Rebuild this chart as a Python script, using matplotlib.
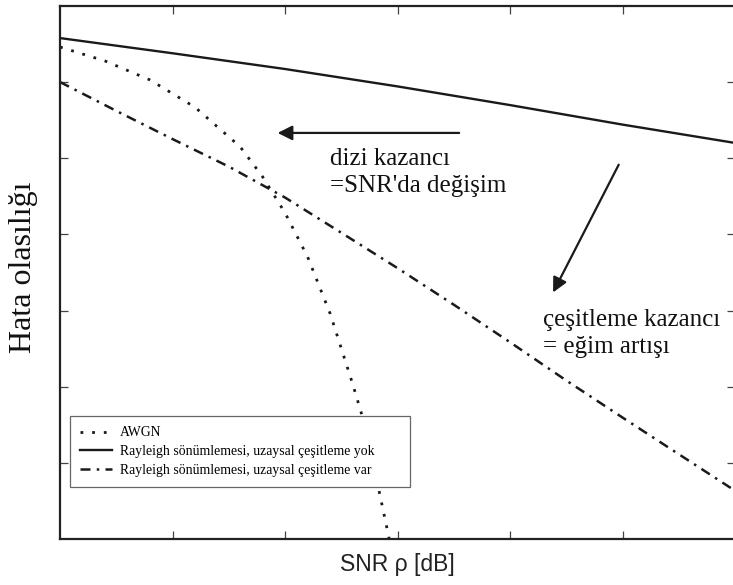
import numpy as np
import matplotlib
matplotlib.use("Agg")
import matplotlib.pyplot as plt

# Values (x in dB, y = error probability)
snrSolid = [0, 5, 10, 15, 20, 25, 30]
berRayleigh = [0.38, 0.24, 0.149, 0.088, 0.050, 0.0277, 0.0159]

snrDiv = [0, 2.5, 5, 7.5, 10, 12.5, 15, 17.5, 20, 22.5, 25, 27.5, 30]
berRayleighDiv = [0.1005, 0.042, 0.0179, 0.00778, 0.00305, 0.00105, 3.6e-4,
                  1.19e-4, 3.82e-5, 1.2e-5, 3.91e-6, 1.29e-6, 4.27e-7]

snrAwgn = [0, 2, 4, 6, 8, 9, 10, 11, 12, 13, 13.5, 14, 14.5, 15]
berAwgn = [0.29, 0.19, 0.107, 0.0468, 0.0142, 0.00571, 0.00191, 5.05e-4,
           9.1e-5, 1.08e-5, 3.44e-6, 7.4e-7, 1.48e-7, 2.9e-8]

legendLabels = ["AWGN",
                "Rayleigh sönümlemesi, uzaysal çeşitleme yok",
                "Rayleigh sönümlemesi, uzaysal çeşitleme var"]

serif = ["Liberation Serif", "DejaVu Serif"]
sans = ["Liberation Sans", "DejaVu Sans"]
ink = "#1a1a1a"

fig = plt.figure(figsize=(7.33, 5.85), dpi=100)
ax = fig.add_axes([0.0819, 0.0786, 0.9215, 0.911])

ax.plot(snrAwgn, berAwgn, color=ink, lw=2.0, linestyle=(0, (1, 3.2)),
        label=legendLabels[0])
ax.plot(snrSolid, berRayleigh, color=ink, lw=1.7, linestyle="-",
        label=legendLabels[1])
ax.plot(snrDiv, berRayleighDiv, color=ink, lw=1.8,
        linestyle=(0, (4, 2.5, 1, 2.5)), label=legendLabels[2])

ax.set_yscale("log")
ax.set_xlim(0, 30)
ax.set_ylim(1e-7, 1)
ax.set_xticks([5, 10, 15, 20, 25])
ax.set_yticks([1e-6, 1e-5, 1e-4, 1e-3, 1e-2, 1e-1])
ax.yaxis.set_minor_locator(matplotlib.ticker.NullLocator())
ax.tick_params(direction="in", length=6, width=0.9, color="#444",
               top=True, right=True, labelbottom=False, labelleft=False)
for s in ax.spines.values():
    s.set_linewidth(1.6)
    s.set_color("#222")

# Arrows and notes
ax.annotate("", xy=(0.318, 0.762), xytext=(0.595, 0.762), xycoords="axes fraction",
            arrowprops=dict(arrowstyle="-|>", color=ink, lw=1.6, mutation_scale=22))
ax.annotate("", xy=(0.728, 0.458), xytext=(0.829, 0.707), xycoords="axes fraction",
            arrowprops=dict(arrowstyle="-|>", color=ink, lw=1.6, mutation_scale=22))
ax.text(0.400, 0.733, "dizi kazancı\n=SNR'da değişim", transform=ax.transAxes,
        ha="left", va="top", fontsize=18, family=serif, color="#111", linespacing=1.28)
ax.text(0.715, 0.432, "çeşitleme kazancı\n= eğim artışı", transform=ax.transAxes,
        ha="left", va="top", fontsize=18, family=serif, color="#111", linespacing=1.28)

leg = ax.legend(loc="upper left", bbox_to_anchor=(0.0148, 0.2308, 0.503, 0.0),
                mode="expand", borderaxespad=0,
                prop={"family": serif, "size": 9.9}, fancybox=False, handlelength=2.3,
                labelspacing=0.42, borderpad=0.75, handletextpad=0.55, framealpha=1)
leg.get_frame().set_edgecolor("#666")
leg.get_frame().set_linewidth(0.9)

fig.text(24 / 733, 1 - 267 / 585, "Hata olasılığı", rotation=90, ha="center",
         va="center", fontsize=23, family=serif, color="#111")
fig.text(397.5 / 733, 1 - 565 / 585, "SNR ρ [dB]", ha="center", va="center",
         fontsize=16.5, family=sans, color="#222")

fig.savefig("out.png", dpi=100)
